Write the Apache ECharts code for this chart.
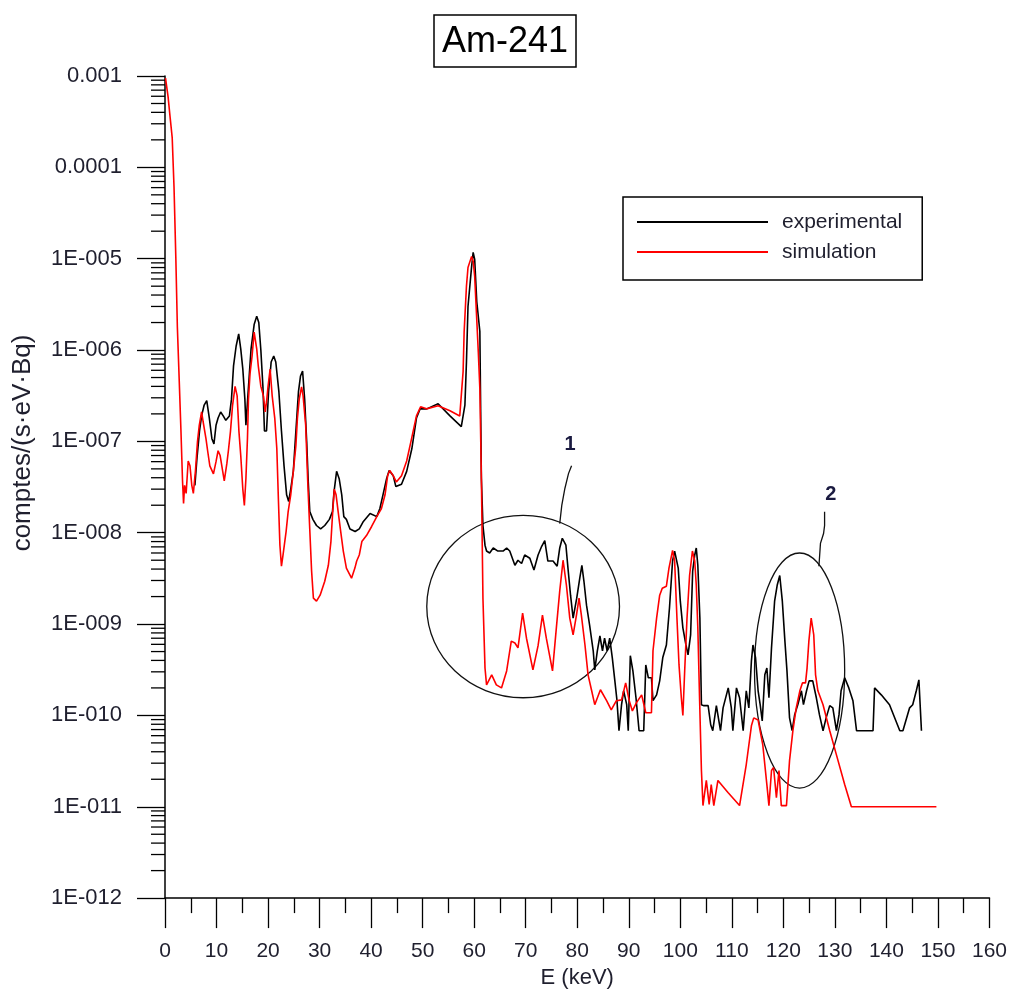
<!DOCTYPE html>
<html><head><meta charset="utf-8">
<script src="https://cdn.jsdelivr.net/npm/echarts@6/dist/echarts.min.js"></script>
<style>html,body{margin:0;padding:0;background:#fff}#main{width:1010px;height:994px}</style>
</head><body><div id="main"></div>
<script>
// ---------- data ----------
const titleText = 'Am-241';
const seriesNames = ['experimental', 'simulation'];
const xTicks = { min: 0, max: 160, step: 10 };
const yTicks = { min: 1e-12, max: 1e-3 };

// experimental spectrum: [E (keV), counts/(s·eV·Bq)]
const experimental = [
[5.8,3.3e-8],[6.2,6.5e-8],[6.7,1.3e-7],[7.1,1.9e-7],[7.6,2.5e-7],[8.1,2.8e-7],[8.6,1.8e-7],[9.1,1.07e-7],[9.5,9.4e-8],[9.9,1.5e-7],
[10.3,1.8e-7],[10.8,2.1e-7],[11.3,1.9e-7],[11.8,1.7e-7],[12.5,1.9e-7],[12.9,2.9e-7],[13.3,6.7e-7],[13.8,1.1e-6],[14.3,1.5e-6],[14.7,1.03e-6],
[15.1,6.2e-7],[15.5,2.9e-7],[15.7,1.5e-7],[16.0,2.7e-7],[16.4,5.8e-7],[16.7,1.03e-6],[17.3,1.9e-6],[17.8,2.35e-6],[18.2,2.0e-6],[18.6,1.0e-6],
[19.0,4.0e-7],[19.3,1.3e-7],[19.7,1.3e-7],[20.1,3.5e-7],[20.6,7.4e-7],[21.1,8.6e-7],[21.5,7.4e-7],[22.1,3.5e-7],[22.6,1.3e-7],[23.1,5.4e-8],
[23.6,2.6e-8],[24.0,2.2e-8],[24.4,3.0e-8],[24.9,4.7e-8],[25.4,1.3e-7],[25.9,3.5e-7],[26.3,5.2e-7],[26.7,5.9e-7],[27.1,2.9e-7],[27.5,9.9e-8],
[27.8,3.6e-8],[28.1,1.7e-8],[28.7,1.4e-8],[29.4,1.2e-8],[30.2,1.1e-8],[31.0,1.2e-8],[31.9,1.4e-8],[32.5,1.7e-8],[32.8,2.8e-8],[33.3,4.7e-8],
[33.8,3.9e-8],[34.3,2.6e-8],[34.7,1.5e-8],[35.2,1.4e-8],[35.9,1.1e-8],[36.9,1.03e-8],[37.7,1.1e-8],[38.5,1.33e-8],[39.8,1.62e-8],[41.1,1.5e-8],
[41.7,1.84e-8],[42.3,2.6e-8],[43.0,3.9e-8],[43.5,4.8e-8],[44.3,4.2e-8],[44.8,3.2e-8],[45.9,3.4e-8],[46.9,4.7e-8],[47.9,8.3e-8],[48.8,1.8e-7],
[49.5,2.27e-7],[50.8,2.27e-7],[53.0,2.58e-7],[55.3,1.9e-7],[57.5,1.45e-7],[58.2,2.5e-7],[58.5,7.4e-7],[58.8,3.0e-6],[59.5,8.2e-6],[59.8,1.17e-5],
[60.1,9.8e-6],[60.5,3.4e-6],[61.1,1.6e-6],[61.4,3.9e-8],[61.7,1.2e-8],[62.1,7.3e-9],[62.4,6.3e-9],[63.0,6.0e-9],[63.7,6.8e-9],[64.6,6.3e-9],
[65.6,6.3e-9],[66.3,6.8e-9],[66.9,6.3e-9],[67.9,4.4e-9],[68.5,5.0e-9],[69.2,4.6e-9],[69.8,5.7e-9],[70.8,5.25e-9],[71.6,3.9e-9],[72.4,5.7e-9],
[73.1,7.1e-9],[73.7,8.2e-9],[74.3,4.9e-9],[75.3,4.9e-9],[76.1,4.3e-9],[76.6,6.8e-9],[77.1,8.7e-9],[77.8,7.3e-9],[78.2,4.1e-9],[78.7,2.07e-9],
[79.2,1.16e-9],[79.9,1.92e-9],[80.5,3.2e-9],[80.9,4.4e-9],[81.3,2.94e-9],[81.8,1.61e-9],[82.4,9.75e-10],[83.1,5.1e-10],[83.4,3.15e-10],[83.9,5.1e-10],
[84.4,7.4e-10],[84.9,5.1e-10],[85.3,7.0e-10],[85.8,5.1e-10],[86.3,7.0e-10],[86.8,4.3e-10],[87.3,2.39e-10],[87.7,1.48e-10],[88.1,6.8e-11],[88.6,1.31e-10],
[89.0,1.86e-10],[89.6,1.31e-10],[89.9,6.8e-11],[90.3,4.5e-10],[90.8,3.07e-10],[91.4,1.56e-10],[92.0,6.8e-11],[92.9,6.8e-11],[93.3,3.57e-10],[93.8,2.58e-10],
[94.4,2.58e-10],[94.7,1.45e-10],[95.4,1.68e-10],[96.0,2.39e-10],[96.6,4.3e-10],[97.3,5.9e-10],[97.9,1.5e-9],[98.5,4.9e-9],[98.9,6.3e-9],[99.2,6.3e-9],
[99.6,4.1e-9],[100.0,1.78e-9],[100.5,9.1e-10],[101.1,5.9e-10],[101.5,4.6e-10],[102.0,7.6e-10],[102.4,3.8e-9],[102.8,5.7e-9],[103.1,6.8e-9],[103.4,4.4e-9],
[103.8,1.16e-9],[104.1,1.31e-10],[104.5,1.28e-10],[105.4,1.28e-10],[105.9,7.9e-11],[106.3,6.8e-11],[107.0,1.28e-10],[107.8,6.8e-11],[108.3,1.21e-10],[109.3,2.0e-10],
[109.9,1.21e-10],[110.2,6.8e-11],[110.9,2.0e-10],[111.5,1.56e-10],[112.2,6.8e-11],[112.8,1.86e-10],[113.3,1.21e-10],[113.8,3.95e-10],[114.1,5.9e-10],[114.6,4.3e-10],
[115.1,1.86e-10],[115.5,1.31e-10],[115.9,8.7e-11],[116.4,2.78e-10],[116.8,3.3e-10],[117.2,1.56e-10],[117.7,5.5e-10],[118.3,1.78e-9],[118.8,2.66e-9],[119.3,3.4e-9],
[119.8,1.78e-9],[120.3,6.5e-10],[120.7,3.07e-10],[121.2,9.4e-11],[121.7,6.8e-11],[122.2,1.02e-10],[122.8,1.31e-10],[123.5,1.86e-10],[123.9,1.31e-10],[124.5,1.86e-10],
[125.0,2.39e-10],[125.7,2.39e-10],[126.4,1.56e-10],[127.0,1.02e-10],[127.7,6.8e-11],[128.3,9.4e-11],[129.0,1.28e-10],[129.6,1.21e-10],[130.3,6.8e-11],[130.8,1.02e-10],
[131.2,1.86e-10],[131.9,2.58e-10],[132.7,2.0e-10],[133.5,1.45e-10],[134.2,6.8e-11],[137.4,6.8e-11],[137.7,2.0e-10],[139.0,1.68e-10],[140.6,1.31e-10],[142.6,6.8e-11],
[143.2,6.8e-11],[144.5,1.21e-10],[145.1,1.31e-10],[145.8,1.86e-10],[146.3,2.45e-10],[146.8,6.8e-11]
];

// simulated spectrum: [E (keV), counts/(s·eV·Bq)]
const simulation = [
[0.1,9.5e-4],[0.6,5.9e-4],[1.0,3.5e-4],[1.4,2.1e-4],[1.75,6.1e-5],[2.1,1.03e-5],[2.4,1.78e-6],[2.8,4.0e-7],[3.1,1.28e-7],[3.4,3.7e-8],
[3.6,2.09e-8],[3.8,3.3e-8],[4.1,2.69e-8],[4.5,6.1e-8],[4.85,5.4e-8],[5.2,3.3e-8],[5.5,2.7e-8],[5.9,4.7e-8],[6.3,9.9e-8],[6.65,1.5e-7],
[7.1,2.1e-7],[7.4,1.64e-7],[7.95,1.07e-7],[8.3,7.7e-8],[8.7,5.4e-8],[9.4,4.4e-8],[9.9,6.0e-8],[10.3,7.9e-8],[10.7,7.0e-8],[11.2,4.7e-8],
[11.5,3.7e-8],[12.0,5.7e-8],[12.3,7.9e-8],[12.7,1.28e-7],[13.1,2.45e-7],[13.6,4.0e-7],[14.0,3.15e-7],[14.35,1.28e-7],[14.7,7.0e-8],[15.1,3.0e-8],
[15.4,1.99e-8],[15.7,3.9e-8],[16.0,1.07e-7],[16.2,2.9e-7],[16.5,5.5e-7],[16.9,8.6e-7],[17.3,1.57e-6],[17.5,1.6e-6],[17.8,1.03e-6],[18.1,6.7e-7],
[18.6,4.0e-7],[19.1,3.15e-7],[19.45,2.1e-7],[19.7,2.7e-7],[20.0,4.0e-7],[20.4,6.2e-7],[20.8,3.15e-7],[21.3,1.8e-7],[21.7,8.3e-8],[22.0,2.37e-8],
[22.3,7.3e-9],[22.6,4.3e-9],[22.9,5.7e-9],[23.5,1.03e-8],[23.9,1.7e-8],[24.4,2.6e-8],[24.9,4.7e-8],[25.4,9.0e-8],[25.7,1.8e-7],[26.05,2.9e-7],
[26.5,3.95e-7],[26.8,3.15e-7],[27.3,1.5e-7],[27.7,3.6e-8],[28.0,1.43e-8],[28.45,3.8e-9],[28.8,1.92e-9],[29.4,1.78e-9],[30.1,2.07e-9],[31.0,2.94e-9],
[31.7,4.4e-9],[32.2,8.0e-9],[32.5,1.54e-8],[32.85,3.0e-8],[33.2,2.6e-8],[33.6,1.7e-8],[34.1,1.03e-8],[34.6,6.3e-9],[35.2,4.1e-9],[36.2,3.18e-9],
[36.85,4.1e-9],[37.2,4.9e-9],[37.7,5.7e-9],[38.2,8.0e-9],[39.1,9.3e-9],[40.1,1.17e-8],[41.1,1.5e-8],[42.0,1.84e-8],[42.7,2.6e-8],[43.2,4.2e-8],
[43.6,4.8e-8],[44.3,4.2e-8],[44.9,3.6e-8],[45.9,4.2e-8],[46.9,6.1e-8],[47.85,1.07e-7],[48.8,1.9e-7],[49.6,2.39e-7],[50.75,2.27e-7],[53.0,2.45e-7],
[55.3,2.16e-7],[57.2,1.9e-7],[57.85,5.8e-7],[58.05,1.57e-6],[58.5,5.0e-6],[58.8,8.0e-6],[59.5,1.06e-5],[59.8,9.4e-6],[60.1,6.4e-6],[60.8,9.5e-7],
[61.1,3.76e-7],[61.4,3.9e-8],[61.7,1.92e-9],[62.1,3.3e-10],[62.4,2.16e-10],[63.4,2.78e-10],[64.3,2.16e-10],[65.3,2.0e-10],[66.3,3.07e-10],[67.2,6.5e-10],
[67.9,6.2e-10],[68.5,5.5e-10],[69.4,1.32e-9],[70.15,7.0e-10],[71.4,3.15e-10],[72.4,5.8e-10],[73.25,1.25e-9],[74.0,7.0e-10],[75.2,3.07e-10],[76.0,9.8e-10],
[76.6,2.29e-9],[77.25,5.0e-9],[77.9,2.66e-9],[78.55,1.16e-9],[79.2,7.6e-10],[79.85,1.25e-9],[80.35,1.92e-9],[80.8,1.25e-9],[81.5,5.9e-10],[82.1,2.78e-10],
[82.8,1.86e-10],[83.4,1.31e-10],[84.5,1.91e-10],[85.7,1.45e-10],[86.6,1.15e-10],[87.6,1.45e-10],[88.6,1.48e-10],[89.4,2.27e-10],[90.05,1.48e-10],[90.7,1.12e-10],
[91.5,1.38e-10],[92.5,1.68e-10],[93.3,1.07e-10],[94.4,1.07e-10],[94.7,5.1e-10],[95.4,1.16e-9],[96.0,2.07e-9],[96.5,2.47e-9],[97.3,2.6e-9],[97.8,4.1e-9],
[98.5,6.4e-9],[98.9,4.9e-9],[99.35,1.16e-9],[99.75,3.57e-10],[100.2,1.56e-10],[100.5,1.0e-10],[100.85,3.07e-10],[101.3,1.16e-9],[101.8,3.4e-9],[102.35,6.3e-9],
[102.8,4.9e-9],[103.1,2.66e-9],[103.4,9.1e-10],[103.75,1.45e-10],[104.1,2.49e-11],[104.4,1.03e-11],[105.05,1.94e-11],[105.6,1.06e-11],[106.0,1.75e-11],[106.5,1.03e-11],
[107.3,1.94e-11],[109.25,1.43e-11],[111.5,1.03e-11],[112.8,2.9e-11],[113.8,7.7e-11],[114.25,9.4e-11],[115.1,8.9e-11],[116.0,4.8e-11],[116.8,1.75e-11],[117.2,1.03e-11],
[117.7,2.49e-11],[118.1,2.69e-11],[118.65,1.26e-11],[119.15,2.49e-11],[119.6,1.03e-11],[120.6,1.03e-11],[121.2,3.2e-11],[121.85,6.8e-11],[122.5,1.21e-10],[123.2,1.86e-10],
[123.7,2.27e-10],[124.3,2.27e-10],[124.6,3.3e-10],[124.95,6.5e-10],[125.4,1.16e-9],[125.9,7.6e-10],[126.25,2.78e-10],[126.7,1.86e-10],[127.2,1.56e-10],[127.7,1.31e-10],
[129.0,6.8e-11],[130.3,3.7e-11],[131.9,1.75e-11],[133.2,1e-11],[149.7,1e-11]
];

// annotation regions (data coordinates) and their labels
const annotationLabels = ['1', '2'];
const annotationBoxes = [
  { eMin: 50.8, eMax: 88.2, vTop: 1.55e-8, vBottom: 1.56e-10 },
  { eMin: 114.4, eMax: 131.9, vTop: 6.0e-9, vBottom: 1.6e-11 }
];
const annotationLeaders = [
  [[76.6,1.26e-8],[77.0,1.99e-8],[77.6,3.05e-8],[78.3,4.44e-8],[78.9,5.4e-8]],
  [[126.9,4.3e-9],[127.2,7.65e-9],[127.8,9.8e-9],[128.0,1.2e-8],[128.0,1.7e-8]]
];
const annotationLabelPos = [[78.6, 9.2e-8], [129.2, 2.6e-8]];

// ---------- chart ----------
const SANS = '"Liberation Sans",Arial,sans-serif';
const TXT = '#1f1f2e';

function yFmt(v) {
  const e = Math.round(Math.log10(v));
  if (e >= -4) return v.toFixed(-e);
  return '1E-' + String(-e).padStart(3, '0');
}

const chart = echarts.init(document.getElementById('main'));
chart.setOption({
  animation: false,
  title: {
    text: titleText, left: 'center', top: 15,
    borderColor: '#000', borderWidth: 1.5, padding: [9, 8, 7, 8],
    textStyle: { fontFamily: SANS, fontSize: 36, fontWeight: 'normal', color: '#000' }
  },
  legend: {
    data: seriesNames, orient: 'vertical', left: 623, top: 197,
    padding: [14, 20, 17, 14], itemGap: 8, itemWidth: 131, itemHeight: 2, icon: 'rect',
    borderColor: '#000', borderWidth: 1.5,
    textStyle: { fontFamily: SANS, fontSize: 21, lineHeight: 22, color: TXT, padding: [0, 0, 0, 9] }
  },
  grid: { left: 165, right: 20, top: 76, bottom: 93 },
  xAxis: {
    type: 'value', min: xTicks.min, max: xTicks.max, interval: xTicks.step,
    axisLine: { onZero: false, lineStyle: { color: '#000', width: 1.5 } },
    axisTick: { length: 30, lineStyle: { color: '#000', width: 1.3 } },
    minorTick: { show: true, splitNumber: 2, length: 15, lineStyle: { color: '#000', width: 1.3 } },
    splitLine: { show: false },
    axisLabel: { margin: 43, fontFamily: SANS, fontSize: 21, color: TXT },
    name: 'E (keV)', nameLocation: 'middle', nameGap: 67,
    nameTextStyle: { fontFamily: SANS, fontSize: 22, color: TXT }
  },
  yAxis: {
    type: 'log', logBase: 10, min: yTicks.min, max: yTicks.max, splitNumber: 9,
    axisLine: { show: true, onZero: false, lineStyle: { color: '#000', width: 1.5 } },
    axisTick: { show: true, length: 28, lineStyle: { color: '#000', width: 1.3 } },
    splitLine: { show: false },
    axisLabel: { margin: 43, fontFamily: SANS, fontSize: 22, color: TXT, formatter: yFmt }
  },
  series: [
    { name: seriesNames[0], type: 'line', data: experimental, symbol: 'none', color: '#000',
      lineStyle: { color: '#000', width: 1.6 } },
    { name: seriesNames[1], type: 'line', data: simulation, symbol: 'none', color: '#ff0000',
      lineStyle: { color: '#ff0000', width: 1.6 } }
  ]
});

// decorations: log minor ticks, y title, annotation ellipses
const gfx = [];
const axisX = chart.convertToPixel({ gridIndex: 0 }, [0, 1e-6])[0];
for (let e = -12; e < -3; e++) {
  for (let m = 2; m <= 9; m++) {
    const y = chart.convertToPixel({ gridIndex: 0 }, [0, m * Math.pow(10, e)])[1];
    gfx.push({ type: 'line', shape: { x1: axisX - 14, y1: y, x2: axisX, y2: y },
      style: { stroke: '#000', lineWidth: 1.3 }, silent: true });
  }
}
gfx.push({ type: 'text', x: 23, y: 443, rotation: Math.PI / 2,
  style: { text: 'comptes/(s·eV·Bq)', fontFamily: SANS, fontSize: 26, fill: TXT, align: 'center', verticalAlign: 'middle' } });

annotationBoxes.forEach((b, i) => {
  const p1 = chart.convertToPixel({ gridIndex: 0 }, [b.eMin, b.vTop]);
  const p2 = chart.convertToPixel({ gridIndex: 0 }, [b.eMax, b.vBottom]);
  gfx.push({ type: 'ellipse', shape: { cx: (p1[0] + p2[0]) / 2, cy: (p1[1] + p2[1]) / 2, rx: (p2[0] - p1[0]) / 2, ry: (p2[1] - p1[1]) / 2 },
    style: { fill: 'none', stroke: '#111', lineWidth: 1.3 }, silent: true });
  const pts = annotationLeaders[i].map(p => chart.convertToPixel({ gridIndex: 0 }, p));
  gfx.push({ type: 'polyline', shape: { points: pts }, style: { fill: 'none', stroke: '#111', lineWidth: 1.3 }, silent: true });
  const lp = chart.convertToPixel({ gridIndex: 0 }, annotationLabelPos[i]);
  gfx.push({ type: 'text', x: lp[0], y: lp[1],
    style: { text: annotationLabels[i], fontFamily: SANS, fontWeight: 'bold', fontSize: 20, fill: '#1a1a40', align: 'center', verticalAlign: 'middle' } });
});
chart.setOption({ graphic: gfx });
</script>
</body></html>
